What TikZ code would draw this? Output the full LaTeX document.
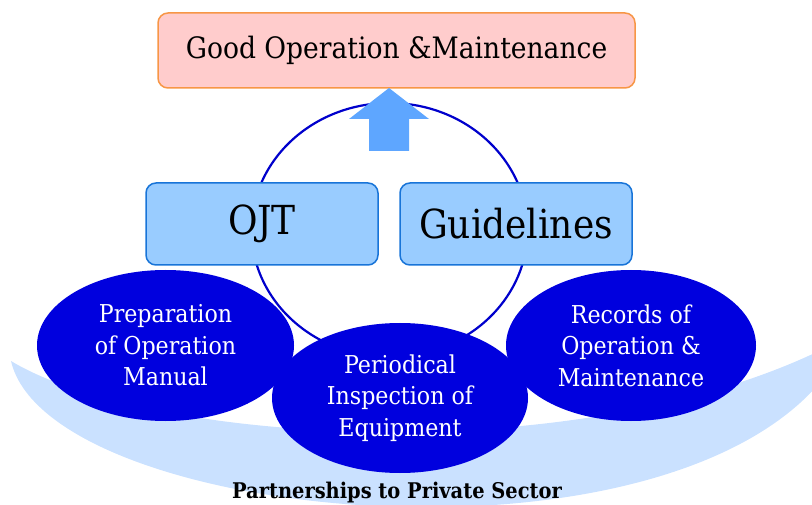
\documentclass[tikz,border=0pt]{standalone}
\usepackage{fontspec}
\setmainfont{DejaVu Serif Condensed}
\usetikzlibrary{shapes.geometric}

\definecolor{swoosh}{RGB}{202,225,255}
\definecolor{ringblue}{RGB}{0,0,204}
\definecolor{ovalblue}{RGB}{0,0,222}
\definecolor{boxblue}{RGB}{153,204,255}
\definecolor{boxedge}{RGB}{24,116,216}
\definecolor{goalfill}{RGB}{255,204,204}
\definecolor{goaledge}{RGB}{247,150,70}
\definecolor{arrowblue}{RGB}{94,166,255}

\begin{document}
\begin{tikzpicture}[x=1pt,y=-1pt,
  goalbox/.style={draw=goaledge,fill=goalfill,line width=1.5pt,rounded corners=10pt,
    minimum width=477pt,minimum height=75pt,inner sep=0pt,font=\fontsize{29.5}{29.5}\selectfont},
  toolbox/.style={draw=boxedge,fill=boxblue,line width=1.5pt,rounded corners=10pt,
    minimum width=232pt,minimum height=82pt,inner sep=0pt,font=\fontsize{40}{40}\selectfont},
  oval/.style={ellipse,fill=ovalblue,text=white,inner sep=0pt,align=center,
    minimum height=151pt,font=\fontsize{24.6}{31.5}\selectfont}]
  \useasboundingbox (0,0) rectangle (812,505);

  % band under the three ovals
  \begin{scope}
    \clip (0,0) rectangle (812,505);
    \fill[swoosh] (11,361) .. controls (150,445) and (600,475) .. (850,335)
      .. controls (740,590) and (50,530) .. (11,361) -- cycle;
  \end{scope}

  \draw[ringblue,line width=2.2pt] (389.5,230) ellipse [x radius=138,y radius=127];

  \node[goalbox] (goal) at (396.5,50.5) {Good Operation \&Maintenance};
  \fill[arrowblue] (389,88) -- (429,119) -- (409,119) -- (409,151) -- (369,151)
    -- (369,119) -- (349,119) -- cycle;

  \node[toolbox] (ojt) at (262,224) {OJT};
  \node[toolbox] (guide) at (516,224) {Guidelines};

  \node[oval,minimum width=257pt] (prep) at (165.5,345.5) {Preparation\\of Operation\\Manual};
  \node[oval,minimum width=250pt] (rec) at (631,345.5) {Records of\\Operation \&\\Maintenance};
  \node[oval,minimum width=256pt,minimum height=150pt] (insp) at (400,398)
    {Periodical\\Inspection of\\Equipment};

  \node[anchor=base,font=\fontsize{21.6}{21.6}\selectfont\bfseries] (partner) at (397,498)
    {Partnerships to Private Sector};
\end{tikzpicture}
\end{document}
